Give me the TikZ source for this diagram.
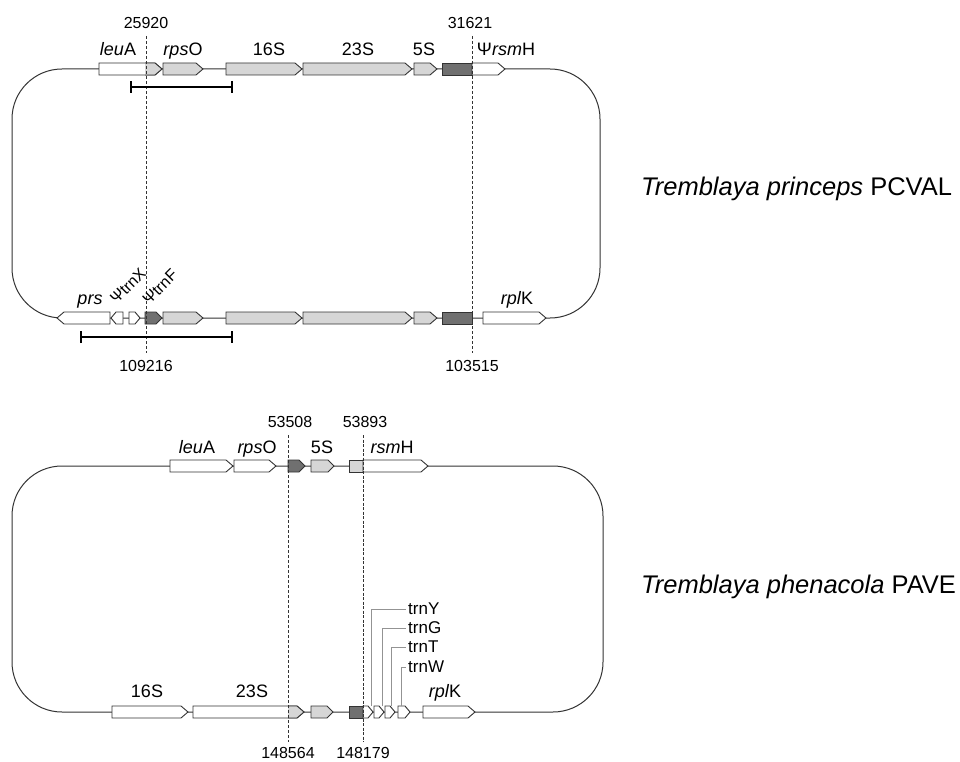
\documentclass[tikz,border=0pt]{standalone}
\usepackage{fontspec}
\setmainfont{Liberation Sans}
\usepackage{tikz}
\usetikzlibrary{arrows.meta}
\definecolor{lnc}{HTML}{333333}
\definecolor{ltg}{HTML}{D6D6D6}
\definecolor{dkg}{HTML}{707070}
\tikzset{
  lp/.style={lnc,line width=1pt,rounded corners=50pt},
  gn/.style={draw=lnc,line width=0.9pt,line join=miter},
  lbl/.style={font=\fontsize{18}{20}\selectfont,anchor=base,inner sep=0pt},
  rlbl/.style={font=\fontsize{16}{18}\selectfont,rotate=45,anchor=center,inner sep=0pt},
  trn/.style={font=\fontsize{17}{19}\selectfont,anchor=west,inner sep=2pt},
  num/.style={font=\fontsize{16}{18}\selectfont,anchor=base,inner sep=0pt},
  spc/.style={font=\fontsize{25.5}{28}\selectfont,anchor=base west,inner sep=0pt},
  dsh/.style={lnc,line width=0.6pt,dash pattern=on 3pt off 2pt},
  dshb/.style={lnc,line width=1pt,dash pattern=on 3pt off 1.5pt},
  sbar/.style={{Bar[width=12pt]}-{Bar[width=12pt]},line width=2pt,black},
  ld/.style={gray!85,line width=0.8pt}
}
% gene arrows: [tip]{start}{end}{y}{fill}
\newcommand{\genefw}[5][7]{\filldraw[gn,fill=#5] (#2,#4-6) -- (#3-#1,#4-6) -- (#3,#4) -- (#3-#1,#4+6) -- (#2,#4+6) -- cycle;}
\newcommand{\generv}[5][7]{\filldraw[gn,fill=#5] (#2,#4) -- (#2+#1,#4-6) -- (#3,#4-6) -- (#3,#4+6) -- (#2+#1,#4+6) -- cycle;}
\newcommand{\genebx}[4]{\filldraw[gn,fill=#4] (#1,#3-6) rectangle (#2,#3+6);}

\begin{document}
\begin{tikzpicture}[x=1pt,y=-1pt]
\useasboundingbox (0,0) rectangle (960,762);

% Tremblaya princeps PCVAL
\draw[lp] (12,69) rectangle (600,318);
\genefw{99}{162}{69}{white}
\begin{scope}
  \clip (145,50) rectangle (170,90);
  \genefw{99}{162}{69}{ltg}
\end{scope}
\genefw{163}{203}{69}{ltg}
\genefw{226}{302}{69}{ltg}
\genefw{303}{412}{69}{ltg}
\genefw{414}{437}{69}{ltg}
\genebx{442}{472}{69}{dkg}
\genefw{472}{505}{69}{white}

\generv{57}{110}{318}{white}
\generv[5]{111}{123}{318}{white}
\genefw[5]{129}{140}{318}{white}
\genefw[6]{145}{162}{318}{dkg}
\genefw{163}{203}{318}{ltg}
\genefw{226}{302}{318}{ltg}
\genefw{303}{412}{318}{ltg}
\genefw{414}{437}{318}{ltg}
\genebx{442}{472}{318}{dkg}
\genefw{483}{546}{318}{white}

\draw[dsh] (146,36) -- (146,353);
\draw[dsh] (472,36) -- (472,353);
\draw[sbar] (130,87) -- (233,87);
\draw[sbar] (80,337) -- (233,337);

\node[num] (p25920) at (146,29) {25920};
\node[num] (p31621) at (470,29) {31621};
\node[num] (p109216) at (146,371) {109216};
\node[num] (p103515) at (472,371) {103515};

\node[lbl] (leuA1) at (118,56) {\textit{leu}A};
\node[lbl] (rpsO1) at (183,56) {\textit{rps}O};
\node[lbl] (s16a) at (269,56) {16S};
\node[lbl] (s23a) at (358,56) {23S};
\node[lbl] (s5a) at (424,56) {5S};
\node[lbl] (rsmH1) at (506,56) {Ψ\textit{rsm}H};
\node[lbl] (prs1) at (90,304) {\textit{prs}};
\node[rlbl] (trnX1) at (128,286) {ΨtrnX};
\node[rlbl] (trnF1) at (160,287) {ΨtrnF};
\node[lbl] (rplK1) at (517,304) {\textit{rpl}K};

\node[spc] (tpri) at (641,196) {\textit{Tremblaya princeps} PCVAL};

% Tremblaya phenacola PAVE
\draw[lp] (12,466) rectangle (603,712);
\genefw{170}{233}{466}{white}
\genefw{234}{276}{466}{white}
\genefw[6]{288}{305}{466}{dkg}
\genefw[6]{311}{334}{466}{ltg}
\genebx{349}{363}{466}{ltg}
\genefw{363}{428}{466}{white}

\genefw{112}{188}{712}{white}
\genefw{193}{304}{712}{white}
\begin{scope}
  \clip (288,695) rectangle (310,730);
  \genefw{193}{304}{712}{ltg}
\end{scope}
\genefw[6]{311}{333}{712}{ltg}
\genebx{349}{363}{712}{dkg}
\genefw[5]{363}{373}{712}{white}
\genefw[5]{374}{384}{712}{white}
\genefw[5]{385}{395}{712}{white}
\genefw[5]{398}{410}{712}{white}
\genefw{423}{475}{712}{white}

\draw[dsh] (288,435) -- (288,742);
\draw[dshb] (363,435) -- (363,742);

\node[num] (p53508) at (290,427) {53508};
\node[num] (p53893) at (365,427) {53893};
\node[num] (p148564) at (288,758) {148564};
\node[num] (p148179) at (363,758) {148179};

\node[lbl] (leuA2) at (197,453) {\textit{leu}A};
\node[lbl] (rpsO2) at (257,453) {\textit{rps}O};
\node[lbl] (s5b) at (322,453) {5S};
\node[lbl] (rsmH2) at (392,453) {\textit{rsm}H};
\node[lbl] (s16b) at (147,697) {16S};
\node[lbl] (s23b) at (252,697) {23S};
\node[lbl] (rplK2) at (445,697) {\textit{rpl}K};

\node[trn] (trnY) at (406,609) {trnY};
\node[trn] (trnG) at (406,628) {trnG};
\node[trn] (trnT) at (406,647) {trnT};
\node[trn] (trnW) at (406,667) {trnW};
\coordinate (gY) at (371,706);
\coordinate (gG) at (382,706);
\coordinate (gT) at (391,706);
\coordinate (gW) at (401,706);
\draw[ld] (gY) |- (trnY.west);
\draw[ld] (gG) |- (trnG.west);
\draw[ld] (gT) |- (trnT.west);
\draw[ld] (gW) |- (trnW.west);

\node[spc] (tphe) at (641,593) {\textit{Tremblaya phenacola} PAVE};
\end{tikzpicture}
\end{document}
